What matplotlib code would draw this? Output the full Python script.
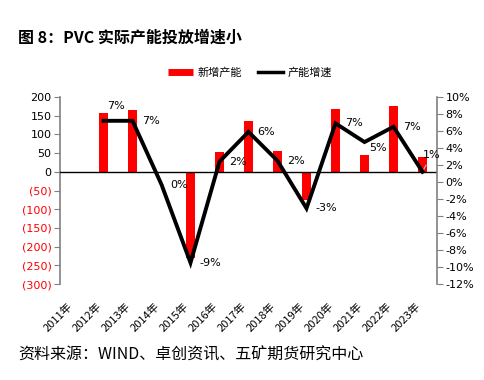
import matplotlib
matplotlib.use("Agg")
import matplotlib.pyplot as plt
import matplotlib.transforms as mtransforms
from matplotlib.lines import Line2D
from matplotlib.ticker import FuncFormatter

plt.rcParams['font.family'] = ['Noto Sans CJK SC', 'DejaVu Sans']

years = ["2011年", "2012年", "2013年", "2014年", "2015年", "2016年", "2017年",
         "2018年", "2019年", "2020年", "2021年", "2022年", "2023年"]
capacity_add = [0, 157, 166, 0, -230, 53, 135, 56, -75, 169, 45, 175, 39]
growth = [None, 7.2, 7.2, -0.3, -9.5, 2.4, 5.9, 2.5, -3.1, 6.9, 4.7, 6.5, 1.2]
growth_labels = [None, "7%", "7%", "0%", "-9%", "2%", "6%", "2%", "-3%", "7%", "5%", "7%", "1%"]
label_offsets = [None, (12, 15), (18, 0), (18, 0), (20, 0), (18, 0), (18, 0),
                 (18, 0), (20, 0), (18, 0), (13, -6), (18, 0), (9, 17)]

fig = plt.figure(figsize=(4.84, 3.8), dpi=100)
ax = fig.add_axes([60/484, 1-284/380, 377/484, 187/380])
ax2 = ax.twinx()

x = list(range(len(years)))
ax.bar(x, capacity_add, width=0.3, color='#FF0000', zorder=2)
ax.axhline(0, color='black', lw=1, zorder=3)
ax.set_ylim(-300, 200)
ax.set_yticks(range(-300, 201, 50))
ax.yaxis.set_major_formatter(FuncFormatter(lambda v, p: f"({abs(int(v))})" if v < 0 else f"{int(v)}"))
ax.set_xlim(-0.5, len(years) - 0.5)

gx = [i for i, g in enumerate(growth) if g is not None]
gy = [g for g in growth if g is not None]
ax2.plot(gx, gy, color='black', lw=2.8, zorder=4, solid_joinstyle='miter')
ax2.set_ylim(-12, 10)
ax2.set_yticks(range(-12, 11, 2))
ax2.yaxis.set_major_formatter(FuncFormatter(lambda v, p: f"{int(v)}%"))

for i, g in enumerate(growth):
    if g is None:
        continue
    dx, dy = label_offsets[i]
    kw = {}
    if i == len(growth) - 1:
        kw['arrowprops'] = dict(arrowstyle='-', color='#BBBBBB', lw=0.8)
    ax2.annotate(growth_labels[i], (i, g), xytext=(dx, dy), textcoords='offset pixels',
                 ha='center', va='center', fontsize=8, family=['DejaVu Sans'], **kw)

for a in (ax, ax2):
    for s in ('top', 'bottom'):
        a.spines[s].set_visible(False)
ax.spines['right'].set_visible(False)
ax2.spines['left'].set_visible(False)
ax.spines['left'].set_color('#808080')
ax2.spines['right'].set_color('#808080')
ax.spines['left'].set_linewidth(1.2)
ax2.spines['right'].set_linewidth(1.2)
ax.tick_params(axis='y', length=4, color='#808080', labelsize=8, pad=2)
ax2.tick_params(axis='y', length=4, color='#808080', labelsize=8, pad=2)
for lbl, v in zip(ax.get_yticklabels(), range(-300, 201, 50)):
    if v < 0:
        lbl.set_color('#FF0000')
for lbl in ax.get_yticklabels() + ax2.get_yticklabels():
    lbl.set_family(['DejaVu Sans'])

ax.set_xticks(x)
ax.set_xticklabels(years, rotation=45, ha='right', rotation_mode='anchor', fontsize=8)
ax.tick_params(axis='x', length=0, pad=12)
shift = mtransforms.ScaledTranslation(-7/100, 0, fig.dpi_scale_trans)
for lbl in ax.get_xticklabels():
    lbl.set_transform(lbl.get_transform() + shift)

handles = [Line2D([0], [0], color='#FF0000', lw=5, solid_capstyle='butt'),
           Line2D([0], [0], color='black', lw=2.5)]
fig.legend(handles, ["新增产能", "产能增速"], loc='center', bbox_to_anchor=(250/484, 1-73/380),
           ncol=2, frameon=False, fontsize=8, handlelength=2.2, columnspacing=1.5, handletextpad=0.4)

fig.text(18/484, 1-38/380, "图 8：PVC 实际产能投放增速小", fontsize=11.5, fontweight='bold',
         ha='left', va='center')
fig.text(18/484, 1-355/380, "资料来源：WIND、卓创资讯、五矿期货研究中心", fontsize=11.5,
         ha='left', va='center')

fig.savefig("out.png", dpi=100)
